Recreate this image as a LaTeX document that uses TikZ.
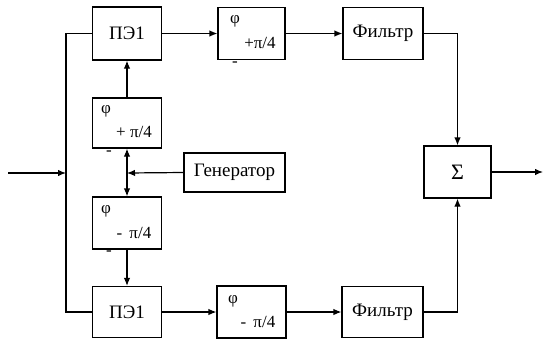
\documentclass[tikz,border=0pt]{standalone}
\usepackage{fontspec}
\setmainfont{Liberation Serif}
\usetikzlibrary{arrows.meta}
\tikzset{
  blk/.style={draw, line width=1.2pt, inner sep=0pt, font=\fontsize{19}{22}\selectfont},
  sml/.style={inner sep=0pt, font=\fontsize{17}{20}\selectfont},
  wire/.style={line width=1.2pt},
  arr/.style={line width=1.2pt, -{Latex[length=8pt,width=6.5pt]}},
}
\begin{document}
\begin{tikzpicture}[x=1pt, y=-1pt]
        \useasboundingbox (0,0) rectangle (545,343);

        % Blocks of the upper channel
        \node[blk, minimum width=69pt, minimum height=53pt] (pe1t) at (127,33.5) {ПЭ1};
        \node[blk, minimum width=67pt, minimum height=52pt] (pht) at (251.5,33.5) {};
        \node[blk, minimum width=80pt, minimum height=52pt] (flt) at (383,33.5) {Фильтр};

        % Phase shifters and generator
        \node[blk, minimum width=69pt, minimum height=50pt] (php) at (127,123) {};
        \node[blk, minimum width=101pt, minimum height=39pt] (gen) at (234.5,172.5) {Генератор};
        \node[blk, minimum width=69pt, minimum height=52pt] (phm) at (127,223) {};

        % Adder
        \node[blk, minimum width=67pt, minimum height=52pt, font=\fontsize{22}{24}\selectfont] (sum) at (457.5,172) {Σ};

        % Blocks of the lower channel
        \node[blk, minimum width=69pt, minimum height=51pt] (pe1b) at (127,312) {ПЭ1};
        \node[blk, minimum width=69pt, minimum height=52pt] (phb) at (251.5,312) {};
        \node[blk, minimum width=81pt, minimum height=51pt] (flb) at (382.5,312) {Фильтр};

        % Labels inside the phase boxes
        \node[sml] (pht-a) at (235,21) {φ};   \node[sml] (pht-b) at (260,43) {+π/4};  \node[sml] (pht-c) at (235,64) {-};
        \node[sml] (php-a) at (106,111) {φ};  \node[sml] (php-b) at (134,132) {+ π/4}; \node[sml] (php-c) at (109,153) {-};
        \node[sml] (phm-a) at (106,211) {φ};  \node[sml] (phm-b) at (134,233) {-\, π/4}; \node[sml] (phm-c) at (109,253) {-};
        \node[sml] (phb-a) at (233,301) {φ};  \node[sml] (phb-b) at (258,322) {-\, π/4};
        \node[sml, font=\fontsize{12}{12}\selectfont] (phb-c) at (235,340) {-};

        % Free ends and junctions
        \coordinate (in) at (8,173);
        \coordinate (jn) at (66,173);
        \coordinate (gj) at (127,173);
        \coordinate (out) at (543,172);

        % Input and left bus
        \draw[arr] (in) -- (jn);
        \draw[wire] (pe1t.west) -| (jn) |- (pe1b.west);

        % Generator and phase shifters
        \draw[arr] (gen.west) -- (gj);
        \draw[arr] (gj) -- (php.south);
        \draw[arr] (gj) -- (phm.north);
        \draw[arr] (php.north) -- (pe1t.south);
        \draw[arr] (phm.south) -- (pe1b.north);

        % Channels
        \draw[arr] (pe1t.east) -- (pht.west);
        \draw[arr] (pht.east) -- (flt.west);
        \draw[arr] (flt.east) -| (sum.north);
        \draw[arr] (pe1b.east) -- (phb.west);
        \draw[arr] (phb.east) -- (flb.west);
        \draw[arr] (flb.east) -| (sum.south);

        % Output
        \draw[arr] (sum.east) -- (out);
\end{tikzpicture}
\end{document}
